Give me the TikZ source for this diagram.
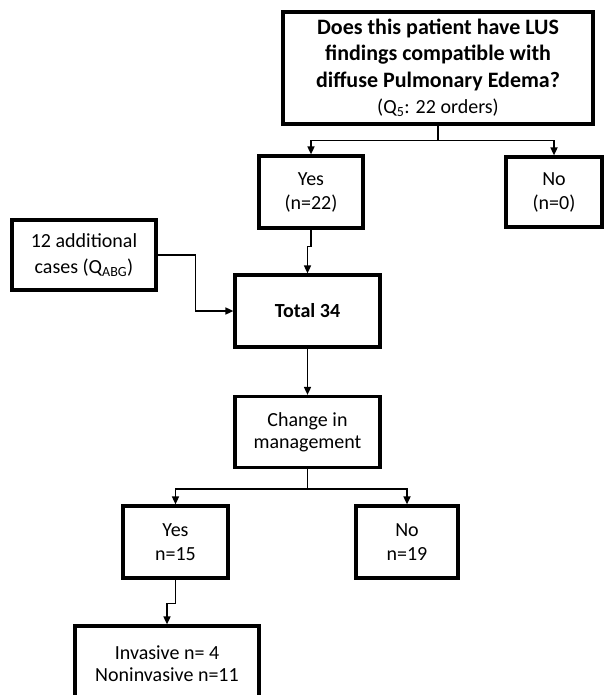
\documentclass[tikz,border=0pt]{standalone}
\usepackage{fontspec}
\setmainfont{Carlito}
\usepackage{tikz}
\usetikzlibrary{arrows.meta, positioning}

\begin{document}
\begin{tikzpicture}[
    x=1pt, y=-1pt,
    box/.style={rectangle, draw, line width=3.2pt, align=center, inner sep=2pt, font=\fontsize{20}{24}\selectfont},
    arrow/.style={-{Triangle[length=8pt, width=7pt]}, line width=1.6pt},
    link/.style={line width=1.6pt}
]
    \useasboundingbox (0,0) rectangle (603,695);
    \node[box, minimum width=310, minimum height=112, font=\fontsize{22}{26.5}\selectfont] (question) at (438,68)
        {\textbf{Does this patient have LUS}\\\textbf{findings compatible with}\\\textbf{diffuse Pulmonary Edema?}\\{\fontsize{20}{22}\selectfont(Q\textsubscript{5}: 22 orders)}};
    \node[box, minimum width=104, minimum height=72] (yesfirst) at (311,192) {Yes\\(n=22)};
    \node[box, minimum width=96, minimum height=70] (nofirst) at (554,192) {No\\(n=0)};
    \node[box, minimum width=144, minimum height=70, font=\fontsize{20}{26}\selectfont] (extra) at (84,255) {12 additional\\cases (Q\textsubscript{ABG})};
    \node[box, minimum width=145, minimum height=72] (total) at (307.5,311) {\textbf{Total 34}};
    \node[box, minimum width=145, minimum height=71, font=\fontsize{20}{22}\selectfont] (change) at (307.5,432) {Change in\\management};
    \node[box, minimum width=105, minimum height=72] (yessecond) at (175.5,542) {Yes\\n=15};
    \node[box, minimum width=102, minimum height=72] (nosecond) at (407,542) {No\\n=19};
    \node[box, minimum width=184, minimum height=76, font=\fontsize{20}{22}\selectfont] (invasive) at (167,664) {Invasive n= 4\\Noninvasive n=11};

    \draw[link] (question.south) -- ++(0,15) coordinate (split);
    \draw[arrow] (split) -| (yesfirst.north);
    \draw[arrow] (split) -| (nofirst.north);
    \draw[arrow] (yesfirst.south) -- ++(0,17) -| (total.north);
    \draw[arrow] (extra.east) -- ++(38,0) |- (total.west);
    \draw[arrow] (total.south) -- (change.north);
    \draw[link] (change.south) -- ++(0,20) coordinate (fork);
    \draw[arrow] (fork) -| (yessecond.north);
    \draw[arrow] (fork) -| (nosecond.north);
    \draw[arrow] (yessecond.south) -- ++(0,24) -| (invasive.north);
\end{tikzpicture}
\end{document}
